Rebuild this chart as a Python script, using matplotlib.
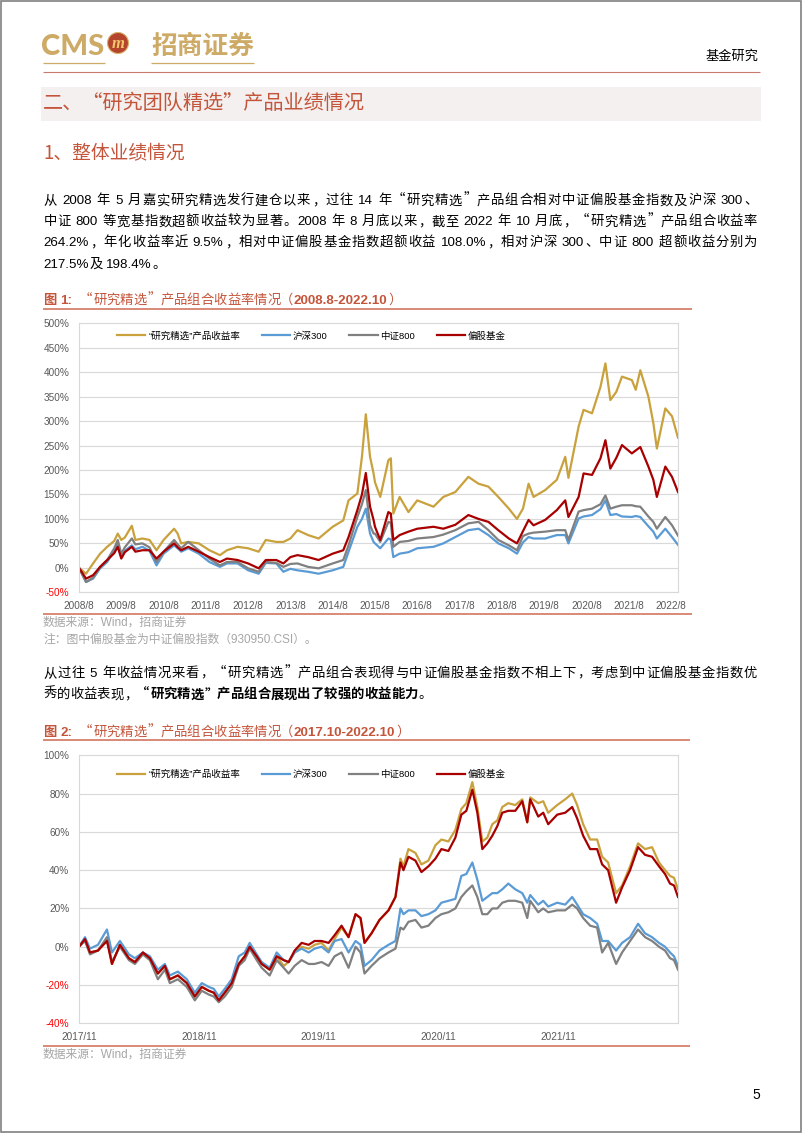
import matplotlib
matplotlib.use('Agg')
import matplotlib.pyplot as plt
from matplotlib.font_manager import FontProperties
from matplotlib.patches import Rectangle, Circle

CJK = ['Noto Sans CJK SC', 'DejaVu Sans']
LATIN = ['Liberation Sans', 'Noto Sans CJK SC', 'DejaVu Sans']
plt.rcParams['font.family'] = LATIN

W, H = 802, 1133

# ---- chart data (cumulative return, %) ----
legend_names = ['“研究精选”产品收益率', '沪深300', '中证800', '偏股基金']
line_colors = ['#C9A13D', '#5B9BD5', '#808080', '#A80000']

# months since 2008/8
months1 = [0, 2, 4, 6, 8, 10, 11, 12, 13, 15,
           16, 18, 20, 22, 24, 27, 28, 29, 31, 34,
           37, 40, 42, 45, 48, 51, 53, 56, 58, 60,
           62, 65, 68, 72, 75, 76.5, 79, 80.3, 81.4, 82.6,
           83.6, 84, 85.5, 87.8, 88.5, 89.2, 91, 93.5, 96, 100.6,
           103.4, 106.8, 110.5, 113.4, 116.2, 119, 122, 124.3, 126, 127.6,
           129, 132.3, 135.6, 138, 138.9, 141.8, 143.2, 145.6, 148, 149.4,
           150.8, 152.5, 154.1, 156.9, 158, 159.3, 161.6, 163, 164, 166.4,
           168.3, 170]
gold1 = [0, -12, 9, 29, 43, 55, 70, 57, 62, 86,
         57, 60, 57, 36, 57, 80, 70, 50, 53, 50,
         36, 26, 36, 43, 40, 33, 57, 53, 53, 60,
         77, 67, 60, 84, 97, 138, 152, 227, 314, 227,
         193, 175, 145, 220, 224, 111, 145, 114, 138, 125,
         145, 155, 186, 172, 166, 145, 121, 100, 121, 172,
         145, 159, 180, 227, 184, 289, 323, 316, 370, 418,
         343, 360, 391, 384, 364, 404, 350, 296, 244, 326,
         310, 266]
red1 = [0, -22, -15, 2, 16, 30, 43, 19, 32, 43,
        33, 36, 36, 19, 33, 50, 42, 36, 43, 33,
        22, 12, 19, 16, 9, -1, 16, 16, 9, 22,
        26, 22, 16, 29, 36, 63, 118, 150, 194, 125,
        98, 84, 57, 114, 111, 57, 67, 74, 80, 84,
        80, 88, 108, 100, 94, 77, 60, 50, 75, 98,
        87, 98, 118, 138, 104, 145, 193, 190, 224, 261,
        203, 225, 251, 234, 240, 247, 207, 180, 145, 207,
        186, 155]
blue1 = [0, -29, -22, -1, 12, 35, 50, 22, 35, 46,
         38, 43, 35, 5, 29, 46, 40, 33, 40, 29,
         12, 2, 9, 9, -5, -12, 10, 9, -8, -2,
         -5, -8, -12, -5, 2, 33, 84, 100, 121, 70,
         53, 50, 40, 60, 58, 22, 29, 32, 40, 43,
         50, 63, 77, 80, 67, 50, 40, 29, 52, 63,
         60, 60, 67, 67, 50, 101, 105, 108, 120, 138,
         108, 110, 105, 104, 106, 104, 85, 74, 60, 80,
         63, 47]
gray1 = [0, -29, -20, 2, 16, 40, 57, 29, 42, 60,
         48, 50, 42, 12, 33, 57, 48, 40, 53, 36,
         19, 5, 12, 12, -1, -8, 12, 10, 2, 8,
         9, 2, -1, 9, 16, 46, 104, 130, 159, 87,
         70, 70, 53, 94, 92, 43, 53, 55, 60, 63,
         68, 77, 91, 94, 77, 57, 46, 36, 65, 70,
         72, 74, 77, 77, 57, 115, 118, 121, 130, 148,
         121, 125, 128, 128, 126, 125, 105, 94, 80, 104,
         87, 66]
fig1_xticks = list(range(0, 169, 12))
fig1_xlabels = ['%d/8' % y for y in range(2008, 2023)]
fig1_yticks = list(range(-50, 501, 50))

# months since 2017/10 month end
months2 = [0, 0.6, 1.1, 1.9, 2.8, 3.3, 4.1, 5.0, 5.6, 6.4,
           7.1, 7.9, 8.6, 9.1, 9.9, 10.8, 11.6, 12.3, 13.0, 13.5,
           14.0, 14.6, 15.3, 16.0, 16.6, 17.1, 17.8, 18.3, 19.1, 19.8,
           20.5, 21.0, 21.6, 22.3, 23.0, 23.6, 24.3, 25.0, 25.6, 26.3,
           27.0, 27.7, 28.2, 28.6, 29.3, 30.1, 31.0, 31.7, 32.2, 32.5,
           33.0, 33.7, 34.3, 35.0, 35.7, 36.3, 37.0, 37.7, 38.3, 38.8,
           39.4, 39.9, 40.4, 40.9, 41.4, 41.9, 42.4, 43.0, 43.7, 44.4,
           44.9, 45.2, 46.0, 46.5, 47.0, 47.9, 48.7, 49.4, 49.9, 50.5,
           51.2, 51.9, 52.4, 53.0, 53.8, 54.4, 55.2, 56.0, 56.7, 57.4,
           58.1, 58.7, 59.2, 59.6, 60.0]
gold2 = [0, 4, -3, -2, 4, -9, 1, -6, -8, -3,
         -6, -14, -10, -17, -15, -19, -26, -21, -23, -24,
         -28, -24, -19, -9, -5, 0, -5, -9, -12, -5,
         -10, -8, -3, 0, -1, 1, 2, -2, 4, 10,
         5, 17, 15, 2, 7, 14, 19, 26, 46, 42,
         51, 49, 43, 45, 53, 56, 55, 61, 72, 75,
         86, 73, 55, 57, 64, 66, 73, 75, 74, 77,
         65, 78, 75, 76, 70, 74, 77, 80, 74, 64,
         56, 56, 47, 44, 28, 32, 42, 54, 51, 52,
         44, 40, 37, 36, 30]
red2 = [0, 4, -3, -2, 3, -9, 1, -6, -8, -3,
        -6, -14, -10, -17, -15, -19, -26, -21, -23, -24,
        -28, -24, -19, -9, -5, 0, -5, -9, -12, -5,
        -7, -8, -2, 2, 1, 3, 3, 2, 6, 11,
        5, 17, 15, 2, 7, 14, 19, 26, 44, 40,
        47, 45, 39, 42, 46, 51, 50, 57, 69, 71,
        82, 70, 51, 54, 58, 63, 70, 71, 71, 76,
        65, 77, 68, 70, 64, 69, 70, 73, 67, 58,
        51, 51, 43, 40, 23, 31, 40, 52, 48, 47,
        42, 38, 33, 32, 26]
blue2 = [0, 5, -1, 1, 9, -3, 3, -4, -6, -3,
         -5, -12, -9, -15, -13, -17, -24, -19, -21, -22,
         -26, -22, -17, -5, -3, 2, -4, -8, -11, -3,
         -7, -8, -3, -1, -3, -1, 0, -3, 3, 4,
         -3, 3, 1, -10, -7, -2, 1, 3, 20, 17,
         19, 19, 16, 17, 19, 23, 24, 25, 37, 38,
         44, 35, 24, 26, 28, 28, 30, 33, 30, 28,
         23, 27, 22, 24, 21, 23, 22, 26, 22, 17,
         15, 12, 3, 3, -2, 2, 5, 12, 7, 5,
         2, 0, -3, -5, -10]
gray2 = [0, 3, -4, -2, 5, -8, 0, -7, -9, -4,
         -7, -17, -12, -19, -17, -21, -28, -23, -25, -26,
         -29, -26, -21, -10, -7, -1, -7, -11, -15, -7,
         -11, -14, -10, -7, -9, -9, -8, -10, -5, -3,
         -11, 0, -3, -14, -10, -6, -3, -1, 10, 9,
         13, 14, 10, 11, 15, 17, 18, 20, 26, 29,
         32, 26, 17, 17, 20, 20, 23, 24, 24, 23,
         15, 24, 18, 20, 18, 19, 19, 22, 20, 15,
         11, 10, -3, 2, -9, -3, 3, 9, 5, 3,
         0, -2, -6, -7, -12]
fig2_xticks = [0, 12, 24, 36, 48]
fig2_xlabels = ['2017/11', '2018/11', '2019/11', '2020/11', '2021/11']
fig2_yticks = list(range(-40, 101, 20))

# ---- page text ----
para1 = [
    '从 2008 年 5 月嘉实研究精选发行建仓以来，过往 14 年“研究精选”产品组合相对中证偏股基金指数及沪深 300、',
    '中证 800 等宽基指数超额收益较为显著。2008 年 8 月底以来，截至 2022 年 10 月底，“研究精选”产品组合收益率',
    '264.2%，年化收益率近 9.5%，相对中证偏股基金指数超额收益 108.0%，相对沪深 300、中证 800 超额收益分别为',
    '217.5%及 198.4%。',
]
para2_line1 = '从过往 5 年收益情况来看，“研究精选”产品组合表现得与中证偏股基金指数不相上下，考虑到中证偏股基金指数优'
para2_line2 = [('秀的收益表现，', 'normal'), ('“研究精选”产品组合展现出了较强的收益能力', 'bold'), ('。', 'normal')]

ACCENT = '#C4553B'
LINE_RED = '#D06A52'
GOLD = '#CDAA66'
SRC_GRAY = '#A6A6A6'

LEFT_PUNCT = '，。、”：；）！？'
RIGHT_PUNCT = '“（'


def tokens_of(runs):
    out = []
    for s, w in runs:
        buf = ''
        for ch in s:
            if ch.isascii() and ch != ' ':
                buf += ch
            else:
                if buf:
                    out.append((buf, w))
                    buf = ''
                out.append((ch, w))
        if buf:
            out.append((buf, w))
    return out


def advance(renderer, s, fam, size, weight):
    # ink width of |s| minus || gives the advance of s
    fp = FontProperties(family=fam, size=size, weight=weight)
    if s == ' ':
        return size * 100 / 72 * 0.28
    a = renderer.get_text_width_height_descent('|' + s + '|', fp, ismath=False)[0]
    b = renderer.get_text_width_height_descent('||', fp, ismath=False)[0]
    return a - b


def draw_runs(fig, ax, runs, x0, y, size, color='black', x1=None):
    renderer = fig.canvas.get_renderer()
    toks = tokens_of(runs)
    fams = [LATIN if s.isascii() else CJK for s, w in toks]
    widths = [advance(renderer, s, f, size, w) for (s, w), f in zip(toks, fams)]
    gap = 0
    if x1 is not None and len(toks) > 1:
        gap = max(0, (x1 - x0 - sum(widths)) / (len(toks) - 1))
    em = size * 100 / 72
    x = x0
    for (s, w), f, wd in zip(toks, fams, widths):
        if s != ' ':
            if s in LEFT_PUNCT:
                px, ha = x + 0.06 * em, 'left'
            elif s in RIGHT_PUNCT:
                px, ha = x + wd - 0.06 * em, 'right'
            else:
                px, ha = x + wd / 2, 'center'
            ax.text(px, y, s, fontsize=size, fontweight=w, color=color,
                    family=f, ha=ha, va='baseline')
        x += wd + gap


def px_rect(x0, y0, x1, y1):
    return [x0 / W, 1 - y1 / H, (x1 - x0) / W, (y1 - y0) / H]


def draw_chart(fig, rect, x, values, yticks, xticks, xlabels, legend_y):
    ax = fig.add_axes(rect)
    for vals, color, name in zip(values, line_colors, legend_names):
        ax.plot(x, vals, color=color, lw=1.6, label=name)
    ax.set_xlim(x[0], x[-1])
    ax.set_ylim(yticks[0], yticks[-1])
    ax.set_yticks(yticks)
    ax.set_yticklabels(['%d%%' % v for v in yticks])
    ax.set_xticks(xticks)
    ax.set_xticklabels(xlabels)
    ax.tick_params(length=0, labelsize=7.2, labelcolor='#595959')
    ax.tick_params(axis='y', pad=7)
    ax.tick_params(axis='x', pad=6)
    for lab, v in zip(ax.get_yticklabels(), yticks):
        if v < 0:
            lab.set_color('#FF0000')
    ax.grid(axis='y', color='#D9D9D9', lw=0.8)
    ax.set_axisbelow(True)
    for sp in ax.spines.values():
        sp.set_color('#D9D9D9')
        sp.set_linewidth(0.8)
    ax.legend(loc='upper left', bbox_to_anchor=((117 - 79) / 599, legend_y),
              ncol=4, frameon=False, fontsize=6.8, handlelength=3.0,
              handletextpad=0.3, columnspacing=2.3, borderpad=0, borderaxespad=0)
    return ax


def hline(ax, y, x0, x1, color, lw):
    ax.plot([x0, x1], [y, y], color=color, lw=lw, solid_capstyle='butt')


def main():
    fig = plt.figure(figsize=(W / 100, H / 100), dpi=100)
    bg = fig.add_axes([0, 0, 1, 1])
    bg.set_xlim(0, W)
    bg.set_ylim(H, 0)
    bg.axis('off')

    # page frame
    bg.add_patch(Rectangle((0.8, 0.8), W - 1.8, H - 1.8, fill=False, ec='#808080', lw=1.2))

    # header / logo
    bg.text(41, 47, 'CMS', fontsize=21, fontweight=900, color=GOLD, family=['Lato', 'DejaVu Sans'],
            ha='left', va='center')
    bg.add_patch(Circle((118, 43), 10.5, fc='#B4452C', ec='#D9B36E', lw=0.8))
    bg.text(118, 43.5, 'm', fontsize=12, fontweight='bold', style='italic', color='#F2C66A',
            family=['Liberation Serif', 'DejaVu Serif'], ha='center', va='center')
    bg.text(151, 46, '招商证券', fontsize=18.5, fontweight='bold', color=GOLD, family=CJK,
            ha='left', va='center')
    hline(bg, 63, 43, 105, GOLD, 0.9)
    hline(bg, 63, 151, 254, GOLD, 0.9)
    bg.text(758, 56.5, '基金研究', fontsize=9.5, color='black', family=CJK, ha='right', va='center')
    hline(bg, 72.3, 43, 760, '#C97A6E', 0.8)

    # section heading
    bg.add_patch(Rectangle((41, 87), 720, 34, fc='#F3F0EF', ec='none'))
    bg.text(43, 103, '二、“研究团队精选”产品业绩情况', fontsize=14.5, color=ACCENT, family=CJK,
            ha='left', va='center')
    bg.text(43, 154, '1、整体业绩情况', fontsize=13.5, color=ACCENT, family=CJK,
            ha='left', va='center')

    # paragraph 1
    ys = [199.3, 220.3, 241.0, 262.7]
    for i, (line, yc) in enumerate(zip(para1, ys)):
        right = 757 if i < len(para1) - 1 else None
        draw_runs(fig, bg, [(line, 'normal')], 43.5, yc + 5, 9.6, x1=right)

    # figure 1
    draw_runs(fig, bg, [('图 1:', 'bold'), ('  “研究精选”产品组合收益率情况（', 'normal'),
                        ('2008.8-2022.10', 'bold'), ('）', 'normal')], 43, 299 + 5, 9.6, color=ACCENT)
    hline(bg, 309, 43, 692, LINE_RED, 1.1)
    draw_chart(fig, px_rect(79, 323.3, 678, 592.3), months1, [gold1, blue1, gray1, red1],
               fig1_yticks, fig1_xticks, fig1_xlabels, (592.3 - 331) / 269)
    hline(bg, 614, 43, 692, LINE_RED, 1.1)
    bg.text(43, 623, '数据来源：Wind，招商证券', fontsize=8.5, color=SRC_GRAY, family=LATIN,
            ha='left', va='center')
    bg.text(43, 639.5, '注：图中偏股基金为中证偏股指数（930950.CSI）。', fontsize=8.5, color=SRC_GRAY,
            family=LATIN, ha='left', va='center')

    # paragraph 2
    draw_runs(fig, bg, [(para2_line1, 'normal')], 43.5, 671.7 + 5, 9.6, x1=757)
    draw_runs(fig, bg, para2_line2, 43.5, 693.3 + 5, 9.6)

    # figure 2
    draw_runs(fig, bg, [('图 2:', 'bold'), ('  “研究精选”产品组合收益率情况（', 'normal'),
                        ('2017.10-2022.10', 'bold'), ('）', 'normal')], 43, 730.7 + 5, 9.6, color=ACCENT)
    hline(bg, 739.5, 43, 690, LINE_RED, 1.1)
    draw_chart(fig, px_rect(79, 755.3, 678, 1023.3), months2, [gold2, blue2, gray2, red2],
               fig2_yticks, fig2_xticks, fig2_xlabels, (1023.3 - 769.5) / 268)
    hline(bg, 1045.7, 43, 690, LINE_RED, 1.1)
    bg.text(43, 1054.5, '数据来源：Wind，招商证券', fontsize=8.5, color=SRC_GRAY, family=LATIN,
            ha='left', va='center')

    bg.text(756, 1095, '5', fontsize=10, color='black', ha='center', va='center')

    fig.savefig('out.png', dpi=100)


if __name__ == '__main__':
    main()
